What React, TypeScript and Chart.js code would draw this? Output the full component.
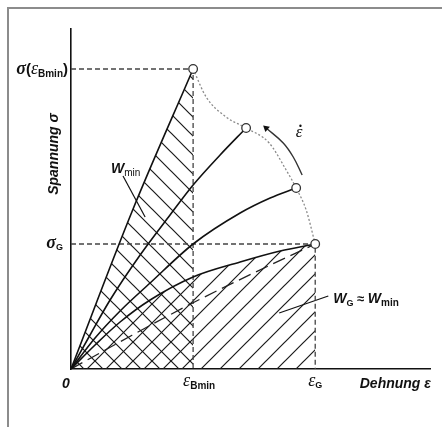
import React, { useEffect, useRef } from 'react';
import { Chart, registerables } from 'chart.js';

Chart.register(...registerables);

// ---- data (strain ε in units of ε_Bmin, stress σ in units of σ_G) ----
const strainMax = 2.94;
const stressMax = 2.72;
const epsBmin = 1.0;
const epsG = 2.0;
const sigmaG = 1.0;
const sigmaBmin = 2.4;

const curve1: number[][] = [[0, 0], [0.5, 1.26], [1.0, 2.4]];
const curve2: number[][] = [[0, 0], [0.156, 0.272], [0.32, 0.552], [0.566, 0.912], [0.811, 1.232], [1.0, 1.472], [1.221, 1.712], [1.434, 1.928]];
const curve3: number[][] = [[0, 0], [0.197, 0.248], [0.402, 0.464], [0.648, 0.688], [1.0, 1.0], [1.385, 1.248], [1.631, 1.368], [1.844, 1.448]];
const curve4: number[][] = [[0, 0], [0.197, 0.192], [0.402, 0.376], [0.648, 0.552], [1.0, 0.736], [1.385, 0.856], [1.713, 0.944], [2.0, 1.0]];
const curveDashed: number[][] = [[0, 0], [0.5, 0.27], [1.0, 0.53], [1.5, 0.77], [2.0, 1.0]];
const envelope: number[][] = [[1.0, 2.4], [1.107, 2.176], [1.27, 2.016], [1.434, 1.928], [1.623, 1.808], [1.762, 1.592], [1.844, 1.448], [1.926, 1.272], [2.0, 1.0]];
const rateArrow: number[][] = [[1.893, 1.552], [1.82, 1.696], [1.738, 1.808], [1.598, 1.928]];
const endPoints: number[][] = [[1.0, 2.4], [1.434, 1.928], [1.844, 1.448], [2.0, 1.0]];
const guideBmin: number[][] = [[0, sigmaBmin], [epsBmin, sigmaBmin], [epsBmin, 0]];
const guideG: number[][] = [[0, sigmaG], [epsG, sigmaG], [epsG, 0]];
const wminLeader: number[][] = [[0.426, 1.544], [0.607, 1.216]];
const wgLeader: number[][] = [[2.107, 0.584], [1.705, 0.448]];

const SANS = "'Liberation Sans', Arial, sans-serif";
const SERIF = "'Liberation Serif', 'Times New Roman', serif";

const pts = (a: number[][]) => a.map(([x, y]) => ({ x, y }));

function makeHatch(dir: '/' | '\\', s: number, color: string, lw: number) {
  const c = document.createElement('canvas');
  c.width = s;
  c.height = s;
  const g = c.getContext('2d')!;
  g.strokeStyle = color;
  g.lineWidth = lw;
  g.beginPath();
  if (dir === '/') {
    g.moveTo(0, s); g.lineTo(s, 0);
    g.moveTo(-2, 2); g.lineTo(2, -2);
    g.moveTo(s - 2, s + 2); g.lineTo(s + 2, s - 2);
  } else {
    g.moveTo(0, 0); g.lineTo(s, s);
    g.moveTo(-2, s - 2); g.lineTo(2, s + 2);
    g.moveTo(s - 2, -2); g.lineTo(s + 2, 2);
  }
  g.stroke();
  return g.createPattern(c, 'repeat')!;
}

type Part = { t: string; font: string; dy?: number };
function drawParts(ctx: CanvasRenderingContext2D, parts: Part[], x: number, y: number, align: 'left' | 'right' | 'center') {
  let w = 0;
  for (const p of parts) { ctx.font = p.font; w += ctx.measureText(p.t).width; }
  let cx = align === 'left' ? x : align === 'right' ? x - w : x - w / 2;
  for (const p of parts) {
    ctx.font = p.font;
    ctx.fillText(p.t, cx, y + (p.dy || 0));
    cx += ctx.measureText(p.t).width;
  }
  return w;
}

const textPlugin = {
  id: 'labels',
  afterDatasetsDraw(chart: any) {
    const ctx: CanvasRenderingContext2D = chart.ctx;
    const xs = chart.scales.x;
    const ys = chart.scales.y;
    const X = (v: number) => xs.getPixelForValue(v);
    const Y = (v: number) => ys.getPixelForValue(v);
    const left = chart.chartArea.left;
    const bottom = chart.chartArea.bottom;
    ctx.save();
    ctx.fillStyle = '#111';
    ctx.textBaseline = 'alphabetic';
    ctx.textAlign = 'left';
    // y tick labels
    drawParts(ctx, [
      { t: 'σ', font: `bold italic 18px ${SERIF}` },
      { t: '(', font: `bold 15px ${SANS}` },
      { t: 'ε', font: `italic 18px ${SERIF}` },
      { t: 'Bmin', font: `bold 10px ${SANS}`, dy: 3 },
      { t: ')', font: `bold 15px ${SANS}` },
    ], left - 3, Y(sigmaBmin) + 5, 'right');
    drawParts(ctx, [
      { t: 'σ', font: `bold italic 18px ${SERIF}` },
      { t: 'G', font: `bold 9px ${SANS}`, dy: 2 },
    ], left - 8, Y(sigmaG) + 4, 'right');
    // x tick labels
    drawParts(ctx, [
      { t: 'ε', font: `italic 18px ${SERIF}` },
      { t: 'Bmin', font: `bold 10px ${SANS}`, dy: 3 },
    ], X(epsBmin) - 10, bottom + 17, 'left');
    drawParts(ctx, [
      { t: 'ε', font: `italic 18px ${SERIF}` },
      { t: 'G', font: `bold 9px ${SANS}`, dy: 2 },
    ], X(epsG) - 7, bottom + 17, 'left');
    drawParts(ctx, [{ t: '0', font: `bold italic 14px ${SANS}` }], left - 5, bottom + 19, 'center');
    // axis titles
    drawParts(ctx, [{ t: 'Dehnung ε', font: `bold italic 14px ${SANS}` }], chart.chartArea.right + 1, bottom + 19, 'right');
    ctx.save();
    ctx.translate(left - 13, Y(1.72));
    ctx.rotate(-Math.PI / 2);
    drawParts(ctx, [{ t: 'Spannung σ', font: `bold italic 14px ${SANS}` }], 0, 0, 'center');
    ctx.restore();
    // annotations
    drawParts(ctx, [
      { t: 'W', font: `bold italic 14px ${SANS}` },
      { t: 'min', font: `10px ${SANS}`, dy: 3 },
    ], X(0.328), Y(1.568), 'left');
    drawParts(ctx, [
      { t: 'W', font: `bold italic 14px ${SANS}` },
      { t: 'G', font: `bold 9px ${SANS}`, dy: 3 },
      { t: ' ≈ ', font: `bold 13px ${SANS}` },
      { t: 'W', font: `bold italic 14px ${SANS}` },
      { t: 'min', font: `bold 10px ${SANS}`, dy: 3 },
    ], X(2.148), Y(0.528), 'left');
    const ew = drawParts(ctx, [{ t: 'ε', font: `italic 17px ${SERIF}` }], X(1.84), Y(1.86), 'left');
    ctx.font = `bold 16px ${SERIF}`;
    ctx.textAlign = 'center';
    ctx.fillText('˙', X(1.84) + ew / 2 + 1.5, Y(1.86) - 1);
    ctx.restore();
  },
};

export default function App() {
  const ref = useRef<HTMLCanvasElement>(null);
  useEffect(() => {
    document.body.style.margin = '0';
    const hatchBack = makeHatch('\\', 19, '#1a1a1a', 1.2);
    const hatchFwd = makeHatch('/', 19, '#1a1a1a', 1.2);
    const line = (data: number[][], extra: any = {}) => ({
      type: 'line',
      data: pts(data),
      borderColor: '#111',
      borderWidth: 1.6,
      pointRadius: 0,
      fill: false,
      cubicInterpolationMode: 'monotone',
      ...extra,
    });
    const chart = new Chart(ref.current!, {
      type: 'line',
      data: {
        datasets: [
          {
            type: 'line',
            data: pts(endPoints),
            showLine: false,
            pointRadius: 4.3,
            pointBackgroundColor: '#fff',
            pointBorderColor: '#333',
            pointBorderWidth: 1.3,
          } as any,
          line(rateArrow, {
            cubicInterpolationMode: 'default',
            tension: 0.4,
            borderColor: '#333',
            borderWidth: 1.4,
            pointRadius: [0, 0, 0, 4],
            pointStyle: 'triangle',
            pointRotation: 311,
            pointBackgroundColor: '#111',
            pointBorderColor: '#111',
            pointBorderWidth: 0,
          }),
          line(envelope, { borderColor: '#8a8a8a', borderWidth: 1.3, borderDash: [2, 2] }),
          line(curve1, { fill: 'origin', backgroundColor: hatchBack }),
          line(curve2),
          line(curve3),
          line(curve4, { fill: 'origin', backgroundColor: hatchFwd }),
          line(curveDashed, { borderDash: [13, 6], borderWidth: 1.3, borderColor: '#222' }),
          line(guideBmin, { cubicInterpolationMode: 'default', tension: 0, borderDash: [5, 3], borderWidth: 1.3, borderColor: '#444' }),
          line(guideG, { cubicInterpolationMode: 'default', tension: 0, borderDash: [5, 3], borderWidth: 1.3, borderColor: '#444' }),
          line(wminLeader, { cubicInterpolationMode: 'default', tension: 0, borderWidth: 1.2 }),
          line(wgLeader, { cubicInterpolationMode: 'default', tension: 0, borderWidth: 1.2 }),
        ] as any,
      },
      options: {
        animation: false,
        responsive: false,
        maintainAspectRatio: false,
        layout: { padding: { left: 71, right: 12, top: 29, bottom: 58 } },
        scales: {
          x: {
            type: 'linear',
            min: 0,
            max: strainMax,
            grid: { display: false, drawTicks: false },
            ticks: { display: false },
            border: { display: true, color: '#111', width: 1.6 },
          },
          y: {
            type: 'linear',
            min: 0,
            max: stressMax,
            grid: { display: false, drawTicks: false },
            ticks: { display: false },
            border: { display: true, color: '#111', width: 1.6 },
          },
        },
        plugins: {
          legend: { display: false },
          tooltip: { enabled: false },
          filler: { drawTime: 'beforeDatasetsDraw' },
        },
      } as any,
      plugins: [textPlugin],
    });
    return () => chart.destroy();
  }, []);
  return (
    <div style={{ position: 'relative', width: 442, height: 427, background: '#fff' }}>
      <div
        style={{
          position: 'absolute',
          left: 7,
          top: 7,
          right: 0,
          bottom: 0,
          borderLeft: '2px solid #8c8c8c',
          borderTop: '2px solid #8c8c8c',
          pointerEvents: 'none',
        }}
      />
      <canvas ref={ref} width={442} height={427} style={{ position: 'absolute', left: 0, top: 0 }} />
    </div>
  );
}
